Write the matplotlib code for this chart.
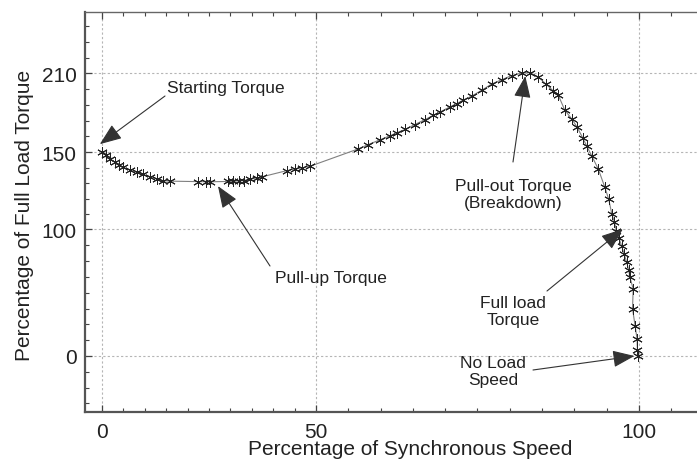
import matplotlib
matplotlib.use("Agg")
import matplotlib.pyplot as plt
import numpy as np

plt.rcParams['font.family'] = ['Liberation Sans', 'DejaVu Sans']

# torque-speed curve
speed = [0.0, 1.0, 1.9, 3.0, 4.0, 5.0, 6.5, 8.1, 9.6, 11.2, 12.8, 14.3, 15.9,
         22.4, 24.3, 25.2, 29.4, 30.6, 32.0, 33.2, 34.6, 36.2, 37.4,
         43.2, 45.0, 46.7, 48.6, 56.5, 58.0, 59.9, 61.5, 62.5,
         63.8, 65.3, 66.9, 68.1, 69.2, 70.7, 71.8, 72.8, 74.1,
         75.7, 77.2, 78.8, 80.3, 81.9, 83.1, 84.4, 85.6, 86.7, 87.5,
         88.5, 89.6, 90.4, 91.3, 91.9, 92.7, 93.7, 94.7, 95.3,
         95.8, 96.2, 96.5, 96.9, 97.3, 97.7, 98.1, 98.4, 98.6, 99.1,
         99.0, 99.4, 99.7, 99.75, 99.9]
torque = [150.0, 148.0, 145.5, 143.5, 141.8, 140.1, 138.5, 136.9, 135.5, 134.1, 132.8, 131.5, 131.2,
          130.9, 130.8, 130.8, 131.0, 131.1, 131.4, 131.6, 132.4, 133.3, 134.0,
          138.0, 139.0, 139.8, 140.8, 152.3, 155.5, 159.3, 162.5, 164.7,
          167.2, 171.0, 174.8, 177.9, 180.5, 184.4, 187.0, 189.7, 192.7,
          197.3, 201.9, 205.3, 208.4, 210.3, 210.7, 207.3, 201.9, 196.8, 193.5,
          182.1, 175.2, 169.1, 160.7, 154.6, 147.4, 139.0, 127.4, 119.7,
          110.0, 104.8, 99.1, 93.3, 87.2, 80.6, 74.1, 68.0, 62.2, 53.0,
          37.2, 24.0, 13.4, 4.7, 0.0]

x_major = [0, 50, 100]
y_major = [0, 100, 150, 210]

# (label, arrow tip in data, arrow tail in px from top-left, text centre in px)
notes = [
    ("Starting Torque", (-0.5, 156), (165, 97), (226, 88)),
    ("Pull-up Torque", (27.1, 128), (270, 267), (331, 279)),
    ("Pull-out Torque\n(Breakdown)", (82.4, 208), (513, 163), (513, 195)),
    ("Full load\nTorque", (97.5, 100.3), (547, 292), (513, 312)),
    ("No Load\nSpeed", (99.3, 0), (533, 371), (493, 372)),
]

# the reference axes are piecewise linear (pixel breakpoints)
XK, XP = np.array([0, 50, 100]), np.array([0, 214, 537])
YK, YP = np.array([0, 100, 150, 210]), np.array([0, 126.5, 204, 282.6])


def make_scale(k, p):
    s0 = (p[1] - p[0]) / (k[1] - k[0])
    s1 = (p[-1] - p[-2]) / (k[-1] - k[-2])

    def fwd(v):
        v = np.asarray(v, float)
        return np.where(v < k[0], p[0] + (v - k[0]) * s0,
                        np.where(v > k[-1], p[-1] + (v - k[-1]) * s1, np.interp(v, k, p)))

    def inv(u):
        u = np.asarray(u, float)
        return np.where(u < p[0], k[0] + (u - p[0]) / s0,
                        np.where(u > p[-1], k[-1] + (u - p[-1]) / s1, np.interp(u, p, k)))
    return fwd, inv


W, H = 697, 460
fig = plt.figure(figsize=(W / 100, H / 100), dpi=100)
ax = fig.add_axes([85 / W, (H - 413) / H, (W - 85) / W, 400 / H])
ax.set_xscale('function', functions=make_scale(XK, XP))
ax.set_yscale('function', functions=make_scale(YK, YP))
ax.set_xlim(-3.97, 108.98)
ax.set_ylim(-44.3, 256.9)

ax.plot(speed, torque, color='#808080', lw=0.8, zorder=2)
ax.plot(speed, torque, linestyle='none', marker=(6, 2, 0), markersize=7.5,
        markeredgecolor='#222222', markeredgewidth=0.7, zorder=3)

ax.set_xticks(x_major)
ax.set_yticks(y_major)
ax.set_xticks(list(np.arange(0, 106, 5)), minor=True)
ax.set_yticks([-37.5, -25, -12.5, 12.5, 25, 37.5, 50, 62.5, 75, 87.5,
               110, 120, 130, 140, 162, 174, 186, 198, 222, 234, 246], minor=True)
ax.grid(True, which='major', color='#b5b5b5', linestyle=(0, (2, 2)), lw=0.8)
ax.tick_params(which='both', direction='in', top=True, right=False, colors='#444444',
               labelcolor='#222222', labelsize=15)
ax.tick_params(which='major', length=5, width=0.9)
ax.tick_params(axis='x', which='major', pad=7)
ax.tick_params(axis='y', which='major', pad=6)
ax.tick_params(which='minor', length=3, width=0.8)

for side in ['left', 'bottom']:
    ax.spines[side].set_linewidth(1.6)
    ax.spines[side].set_color('#555555')
ax.spines['top'].set_linewidth(1.0)
ax.spines['top'].set_color('#666666')
ax.spines['right'].set_visible(False)

ax.set_xlabel("Percentage of Synchronous Speed", fontsize=15, color='#222222')
ax.set_ylabel("Percentage of Full Load Torque", fontsize=15, color='#222222')
ax.xaxis.set_label_coords(0.531, -0.0675)
ax.yaxis.set_label_coords(-0.083, 0.495)

for label, tip, tail, centre in notes:
    ax.annotate('', xy=tip, xycoords='data', xytext=(tail[0], H - tail[1]),
                textcoords='figure pixels',
                arrowprops=dict(arrowstyle='-|>,head_length=0.9,head_width=0.35',
                                mutation_scale=15, color='#333333', lw=0.8,
                                shrinkA=0, shrinkB=0))
    fig.text(centre[0] / W, 1 - centre[1] / H, label, ha='center', va='center',
             fontsize=12.5, color='#222222', linespacing=1.15)

fig.savefig("out.png", dpi=100)
